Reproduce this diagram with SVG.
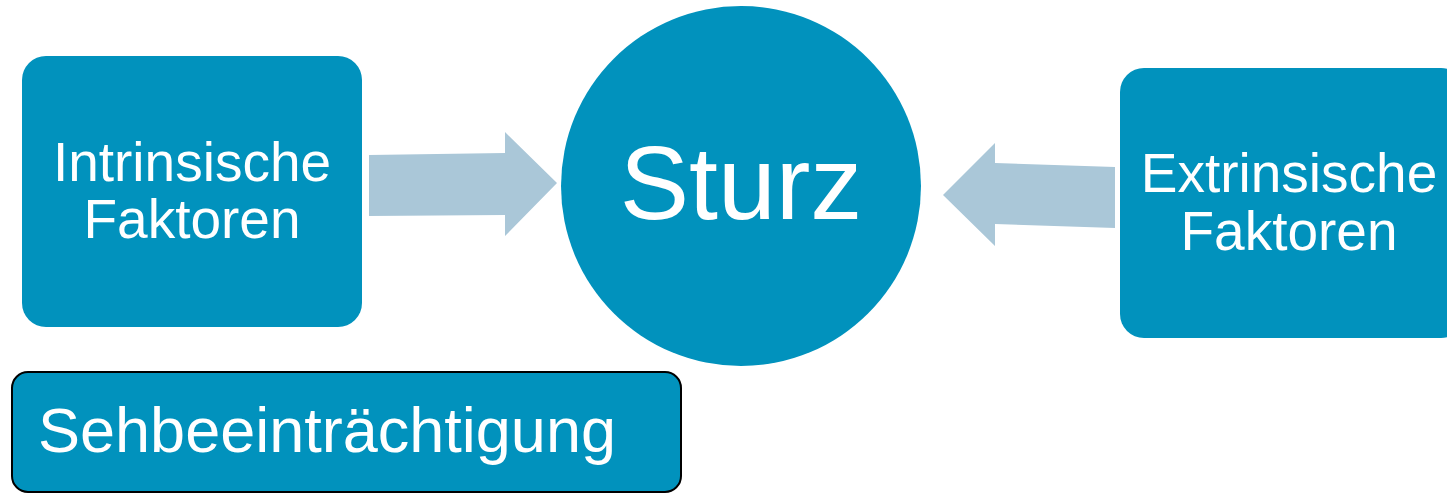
<svg xmlns="http://www.w3.org/2000/svg" width="1447" height="493" viewBox="0 0 1447 493">
<style>
.node{fill:#0192BD}
.arrow{fill:#AAC7D8}
.t{fill:#fff;font-family:"Liberation Sans",Arial,sans-serif;text-anchor:middle}
</style>
<rect width="1447" height="493" fill="#fff"/>
<g id="connectors">
<polygon class="arrow" points="369,155 505,153 505,132 557,183 505,236 505,215 369,216"/>
<polygon class="arrow" points="1115,167 995,163 995,143 943,195 995,246 995,224 1115,228"/>
</g>
<g id="intrinsisch">
<rect class="node" x="22" y="56" width="340" height="271" rx="24"/>
<text class="t" x="192" y="181" font-size="55">Intrinsische</text>
<text class="t" x="192" y="238" font-size="55">Faktoren</text>
</g>
<g id="sturz">
<circle class="node" cx="741" cy="186" r="180"/>
<text class="t" x="741" y="219" font-size="104">Sturz</text>
</g>
<g id="extrinsisch">
<rect class="node" x="1120" y="68" width="345" height="270" rx="24"/>
<text class="t" x="1289" y="192" font-size="55">Extrinsische</text>
<text class="t" x="1289" y="250" font-size="55">Faktoren</text>
</g>
<g id="sehbeeintraechtigung">
<rect class="node" x="12" y="372" width="669" height="120" rx="16" stroke="#000" stroke-width="2"/>
<text x="38" y="452" font-size="63" fill="#fff" font-family="Liberation Sans,Arial,sans-serif">Sehbeeinträchtigung</text>
</g>
</svg>
